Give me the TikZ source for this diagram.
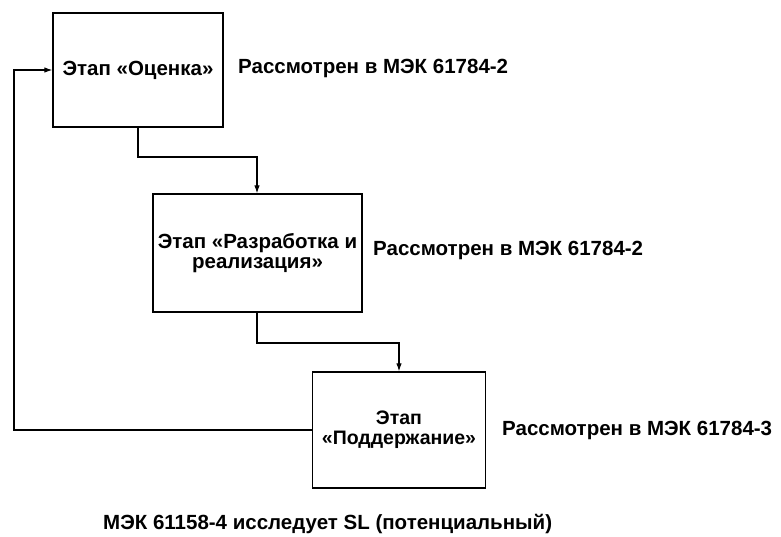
\documentclass[tikz,border=0pt]{standalone}
\usepackage{fontspec}
\setmainfont{Liberation Sans}
\usetikzlibrary{arrows.meta}
\begin{document}
\begin{tikzpicture}[x=1pt,y=-1pt,
  stagebox/.style={draw, line width=1.3pt, inner sep=0pt, align=center},
  lbl/.style={anchor=west, inner sep=0pt},
  conn/.style={line width=1.1pt, -{Latex[length=8pt,width=5.5pt]}},
  every node/.style={font=\bfseries\fontsize{20.5}{20}\selectfont}]
\useasboundingbox (0,0) rectangle (781,536);
\node[stagebox, minimum width=170pt, minimum height=114pt] (b1) at (138,70) {Этап «Оценка»};
\node[stagebox, minimum width=209pt, minimum height=118pt] (b2) at (257.5,253) {Этап «Разработка и\\реализация»};
\node[stagebox, minimum width=173pt, minimum height=116pt, font=\bfseries\fontsize{19.5}{20}\selectfont] (b3) at (399,430) {Этап\\«Поддержание»};
\node[lbl] (l1) at (238,68) {Рассмотрен в МЭК 61784-2};
\node[lbl] (l2) at (373,250) {Рассмотрен в МЭК 61784-2};
\node[lbl] (l3) at (502,430) {Рассмотрен в МЭК 61784-3};
\node[lbl] (l4) at (103,524) {МЭК 61158-4 исследует SL (потенциальный)};
\coordinate (c1) at (138,157);
\coordinate (c2) at (257,157);
\coordinate (c3) at (257,343);
\coordinate (c4) at (399,343);
\coordinate (c5) at (14,430);
\coordinate (c6) at (14,70);
\draw[conn] (b1.south -| c1) -- (c1) -- (c2) -- (b2.north -| c2);
\draw[conn] (b2.south -| c3) -- (c3) -- (c4) -- (b3.north -| c4);
\draw[conn] (b3.west) -- (c5) -- (c6) -- (b1.west);
\end{tikzpicture}
\end{document}
